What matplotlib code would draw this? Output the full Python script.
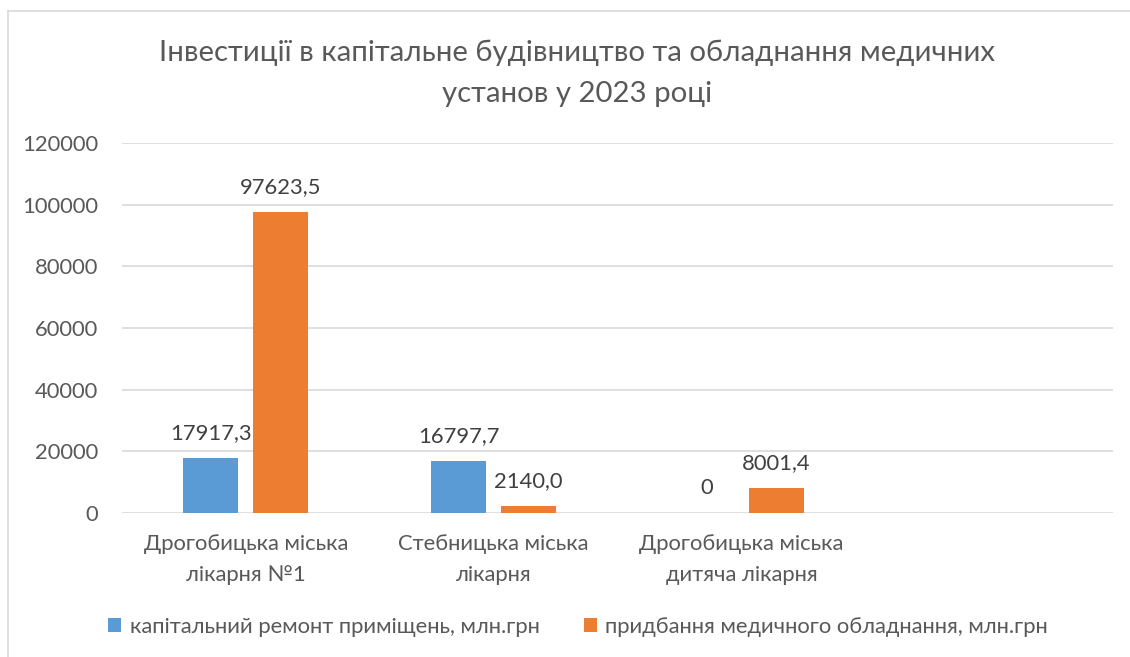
import matplotlib
matplotlib.use("Agg")
import matplotlib.pyplot as plt
from matplotlib.patches import Patch
from matplotlib.lines import Line2D
import numpy as np

plt.rcParams['font.family'] = ['Lato', 'DejaVu Sans']

title = "Інвестиції в капітальне будівництво та обладнання медичних\nустанов у 2023 році"
categories = ["Дрогобицька міська\nлікарня №1", "Стебницька міська\nлікарня", "Дрогобицька міська\nдитяча лікарня", ""]
series_names = ["капітальний ремонт приміщень, млн.грн", "придбання медичного обладнання, млн.грн"]
repair = [17917.3, 16797.7, 0.0]
equipment = [97623.5, 2140.0, 8001.4]
yticks = [0, 20000, 40000, 60000, 80000, 100000, 120000]

BLUE = "#5B9BD5"
ORANGE = "#ED7D31"
TXT = "#595959"
GRID = "#D9D9D9"

W, H = 1130, 657
fig = plt.figure(figsize=(W / 100, H / 100), dpi=100)
ax = fig.add_axes([122 / W, 1 - 513 / H, (1113 - 122) / W, (513 - 143) / H])

x = np.arange(len(repair))
bw = 0.222
off = 0.141
b1 = ax.bar(x - off, repair, bw, color=BLUE, zorder=3)
b2 = ax.bar(x + off, equipment, bw, color=ORANGE, zorder=3)

def fmt(v):
    if v == 0:
        return "0"
    return f"{v:.1f}".replace(".", ",")

for bars, vals in ((b1, repair), (b2, equipment)):
    for rect, v in zip(bars, vals):
        ax.annotate(fmt(v), (rect.get_x() + rect.get_width() / 2, v),
                    xytext=(0, 18), textcoords="offset points",
                    ha="center", va="center", fontsize=15.8, color="#404040")

ax.set_xlim(-0.5, 3.5)
ax.set_ylim(0, 120000)
ax.set_yticks(yticks)
ax.set_yticklabels([str(t) for t in yticks])
ax.set_xticks(np.arange(len(categories)))
ax.set_xticklabels(categories, linespacing=1.7)
ax.tick_params(axis="y", length=0, pad=17, labelsize=15.8, labelcolor=TXT)
ax.tick_params(axis="x", length=0, pad=15, labelsize=15.8, labelcolor=TXT)
for s in ax.spines.values():
    s.set_visible(False)
ax.yaxis.grid(True, color=GRID, linewidth=1.2, zorder=0)
ax.set_axisbelow(True)

fig.text(577 / W, 1 - 73.5 / H, title, ha="center", va="center",
         fontsize=21.2, color=TXT, linespacing=1.72)

# chart border
fig.add_artist(Line2D([8 / W, 8 / W], [0, 1 - 11 / H], color=GRID, linewidth=1.2, transform=fig.transFigure))
fig.add_artist(Line2D([8 / W, 1], [1 - 11 / H, 1 - 11 / H], color=GRID, linewidth=1.2, transform=fig.transFigure))

handles = [Patch(facecolor=BLUE), Patch(facecolor=ORANGE)]
fig.legend(handles, series_names, loc="center", bbox_to_anchor=(578 / W, 1 - 627 / H),
           ncol=2, frameon=False, fontsize=15.8, labelcolor=TXT,
           handlelength=0.6, handleheight=0.6, handletextpad=0.4, columnspacing=2.0)

fig.savefig("out.png", dpi=100, facecolor="white")
